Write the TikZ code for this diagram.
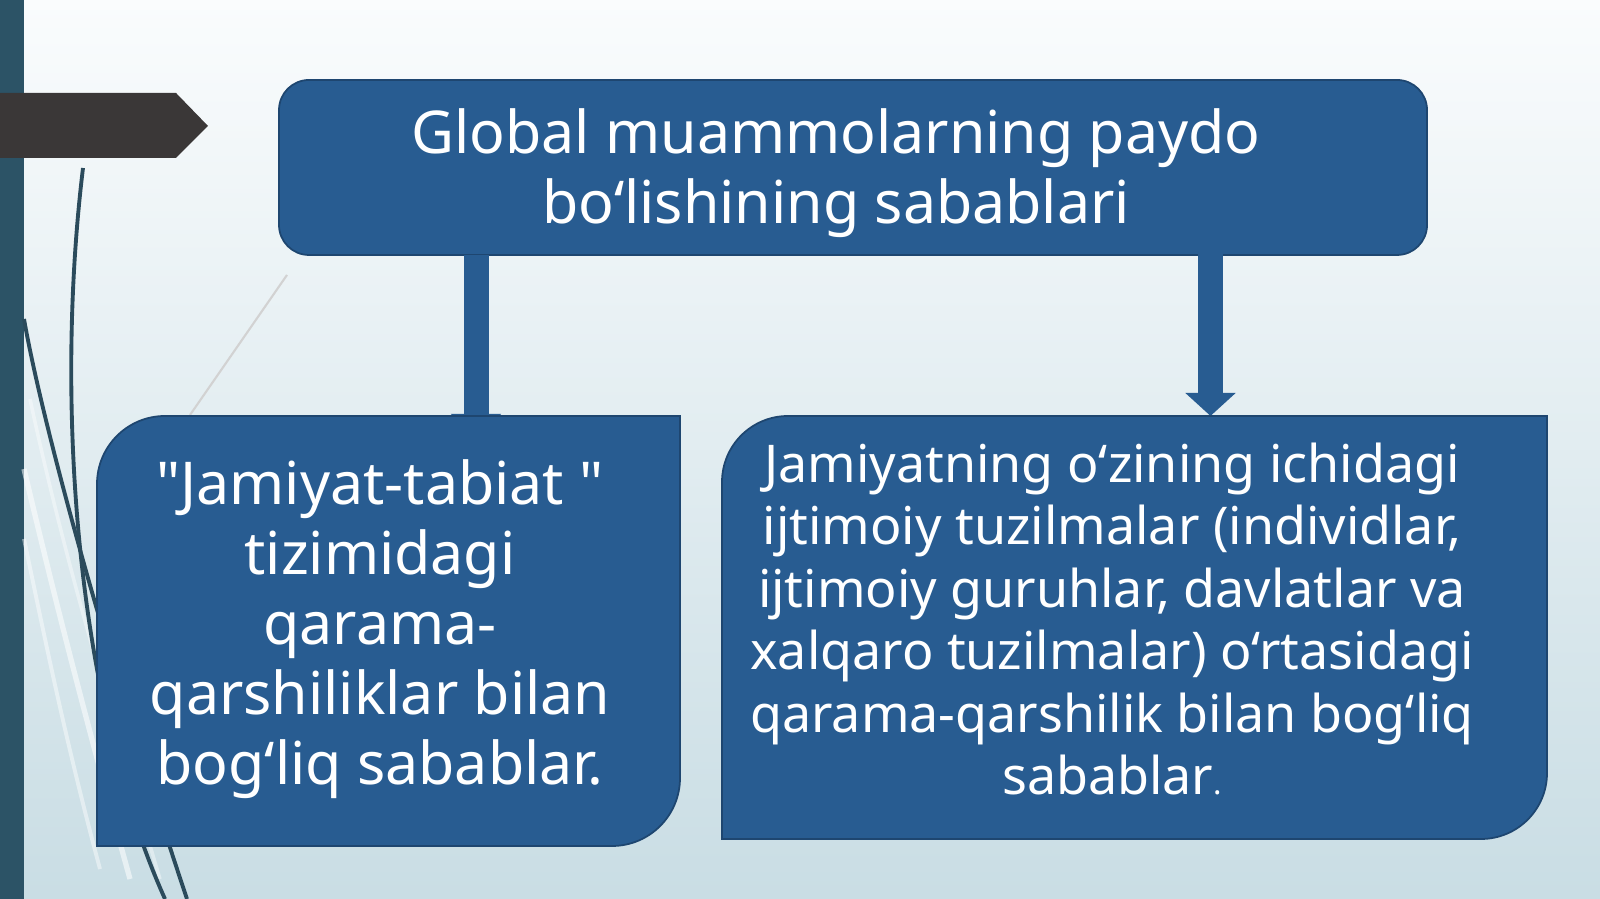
\documentclass[tikz,border=0pt]{standalone}
\usepackage{fontspec}
\usetikzlibrary{arrows.meta}
\newfontfamily\slidefont{Noto Sans}
\definecolor{boxblue}{HTML}{285C91}
\definecolor{boxedge}{HTML}{1E4670}
\definecolor{barteal}{HTML}{2C5366}
\definecolor{tagdark}{HTML}{3A3737}
\definecolor{bgtop}{HTML}{FAFCFD}
\definecolor{bgmid}{HTML}{E8F0F4}
\definecolor{bgbot}{HTML}{C9DDE4}
\definecolor{swirl}{HTML}{2B4B5C}
\tikzset{
  shapebox/.style={minimum width=#1, inner sep=0pt, outer sep=0pt},
  boxfill/.style={fill=boxblue, draw=boxedge, line width=0.5pt},
  bigtext/.style={text=white, align=center, inner sep=0pt,
    font=\slidefont\fontsize{16.8}{19.9}\selectfont},
  smalltext/.style={text=white, align=center, inner sep=0pt,
    font=\slidefont\fontsize{14.8}{17.8}\selectfont},
  bigarrow/.style={draw=boxblue, line width=0.25cm,
    -{Triangle[width=0.49cm, length=0.23cm]}},
}
\newcommand{\myDiagBox}[2]{
\path[boxfill] (#1.south west) -- ([xshift=-#2]#1.south east)
  arc[start angle=-90, end angle=0, radius=#2] -- (#1.north east)
  -- ([xshift=#2]#1.north west)
  arc[start angle=90, end angle=180, radius=#2] -- cycle;
}

\begin{document}
\begin{tikzpicture}
	\shade[top color=bgtop, middle color=bgmid, bottom color=bgbot] (0,0) rectangle (16,8.99);
	\useasboundingbox (0,0) rectangle (16,8.99);
	\fill[barteal] (0,0) rectangle (0.24,8.99);
	\fill[tagdark] (0,8.06) -- (1.76,8.06) -- (2.08,7.73) -- (1.76,7.41) -- (0,7.41) -- cycle;

	\draw[white, opacity=0.55, line width=1.5pt] (0.24,4.3) .. controls (0.5,3.2) and (0.8,2.0) .. (1.3,0.2);
	\draw[white, opacity=0.45, line width=1.1pt] (0.24,3.6) .. controls (0.45,2.6) and (0.65,1.6) .. (1.0,0.3);
	\draw[white, opacity=0.4, line width=1pt] (0.3,5.0) .. controls (0.6,3.6) and (1.0,2.2) .. (1.6,0.2);
	\draw[swirl, line width=1.1pt] (0.83,7.31) .. controls (0.55,5.0) and (0.75,2.0) .. (1.65,0);
	\draw[swirl, line width=1.1pt] (0.24,5.8) .. controls (0.45,4.6) and (1.2,2.0) .. (1.87,0);
	\draw[gray!35, line width=0.6pt] (2.87,6.24) -- (1.9,4.84);

	\node[shapebox=11.48cm, minimum height=1.75cm, rounded corners=0.3cm, boxfill] (top) at (8.53,7.315) {};
	\node[bigtext] (toptext) at (8.36,7.26) {Global muammolarning paydo\\bo‘lishining sabablari};

	\coordinate (lfoot) at (4.76,4.62);
	\coordinate (rhead) at (12.105,6.67);
	\node[shapebox=8.25cm, minimum height=4.23cm] (rbox) at (11.345,2.715) {};
	\draw[bigarrow] (top.south -| lfoot) -- (lfoot);
	\draw[bigarrow] (rhead) -- (rhead |- rbox.north);

	\node[shapebox=5.83cm, minimum height=4.30cm] (lbox) at (3.885,2.68) {};
	\myDiagBox{lbox}{0.68cm}
	\myDiagBox{rbox}{0.66cm}

	\node[bigtext] (ltext) at (3.80,2.70) {"Jamiyat-tabiat "\\tizimidagi\\qarama-\\qarshiliklar bilan\\bog‘liq sabablar.};
	\node[smalltext] (rtext) at (11.12,2.80) {Jamiyatning o‘zining ichidagi\\ijtimoiy tuzilmalar (individlar,\\ijtimoiy guruhlar, davlatlar va\\xalqaro tuzilmalar) o‘rtasidagi\\qarama-qarshilik bilan bog‘liq\\sabablar{\fontsize{9}{10}\selectfont.}};
\end{tikzpicture}
\end{document}
